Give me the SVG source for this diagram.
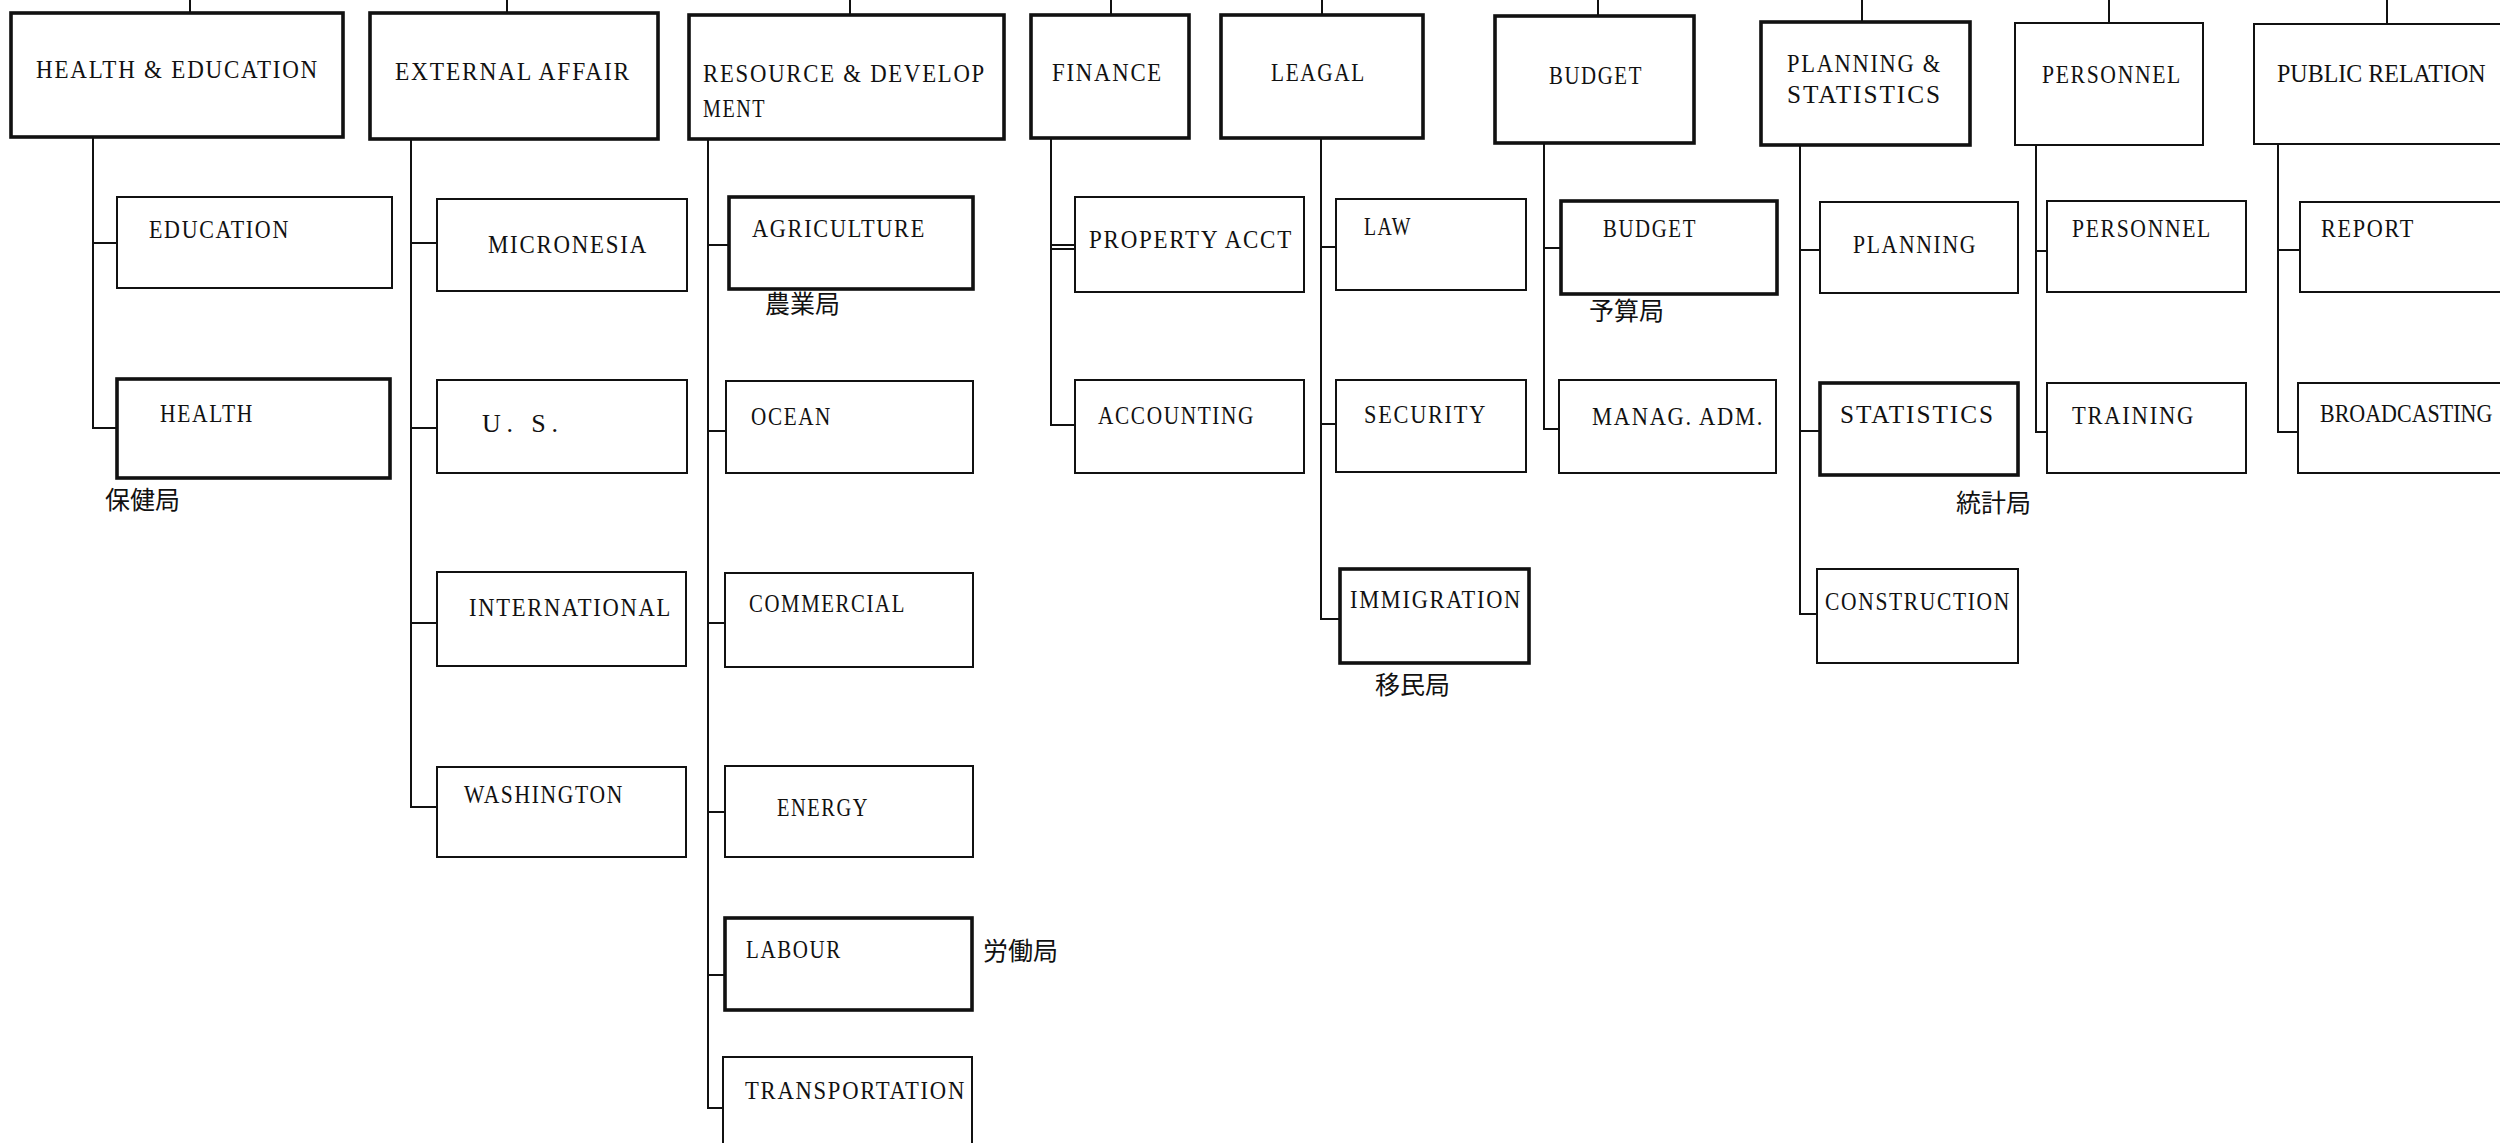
<svg xmlns="http://www.w3.org/2000/svg" width="2500" height="1143" viewBox="0 0 2500 1143">
  <style>
    .box { fill: #ffffff; stroke: #111111; stroke-width: 2; }
    .box.bold { stroke-width: 3.6; }
    .lbl { font-family: "Liberation Serif", "DejaVu Serif", serif; font-size: 26px; letter-spacing: 2px; fill: #111111; }
    .lbl.edge { letter-spacing: 0; }
    .jp { font-family: "Noto Sans CJK JP", "Noto Sans CJK SC", sans-serif; font-size: 25px; fill: #111111; }
    .wire { fill: none; stroke: #111111; stroke-width: 2; }
  </style>
  <rect x="0" y="0" width="2500" height="1143" fill="#ffffff"/>

  <!-- connectors: stubs from the line above, then each department's trunk and branches -->
  <g id="connectors" class="wire">
    <path d="M190 0V13 M507 0V13 M850 0V15 M1111 0V15 M1322 0V15 M1598 0V16 M1862 0V22 M2109 0V23 M2387 0V24"/>
    <path d="M93 137V428H117 M93 243H117"/>
    <path d="M411 139V807H437 M411 243H437 M411 428H437 M411 623H437"/>
    <path d="M708 139V1108H723 M708 245H729 M708 431H726 M708 623H725 M708 812H725 M708 975H725"/>
    <path d="M1051 138V425H1075 M1051 245H1075 M1051 249H1075"/>
    <path d="M1321 138V619H1340 M1321 247H1336 M1321 424H1336"/>
    <path d="M1544 143V429H1559 M1544 248H1561"/>
    <path d="M1800 145V614H1817 M1800 250H1820 M1800 431H1820"/>
    <path d="M2036 145V432H2047 M2036 251H2047"/>
    <path d="M2278 144V432H2298 M2278 250H2300"/>
  </g>

  <!-- departments -->
  <g id="health-education">
    <rect class="box bold" x="11" y="13" width="332" height="124"/>
    <text class="lbl" x="36" y="78" textLength="283" lengthAdjust="spacingAndGlyphs">HEALTH &amp; EDUCATION</text>
  </g>
  <g id="external-affair">
    <rect class="box bold" x="370" y="13" width="288" height="126"/>
    <text class="lbl" x="395" y="80" textLength="236" lengthAdjust="spacingAndGlyphs">EXTERNAL AFFAIR</text>
  </g>
  <g id="resource-development">
    <rect class="box bold" x="689" y="15" width="315" height="124"/>
    <text class="lbl" x="703" y="82" textLength="283" lengthAdjust="spacingAndGlyphs">RESOURCE &amp; DEVELOP</text>
    <text class="lbl" x="703" y="117" textLength="63" lengthAdjust="spacingAndGlyphs">MENT</text>
  </g>
  <g id="finance">
    <rect class="box bold" x="1031" y="15" width="158" height="123"/>
    <text class="lbl" x="1052" y="81" textLength="111" lengthAdjust="spacingAndGlyphs">FINANCE</text>
  </g>
  <g id="legal">
    <rect class="box bold" x="1221" y="15" width="202" height="123"/>
    <text class="lbl" x="1271" y="81" textLength="95" lengthAdjust="spacingAndGlyphs">LEAGAL</text>
  </g>
  <g id="budget">
    <rect class="box bold" x="1495" y="16" width="199" height="127"/>
    <text class="lbl" x="1549" y="84" textLength="94" lengthAdjust="spacingAndGlyphs">BUDGET</text>
  </g>
  <g id="planning-statistics">
    <rect class="box bold" x="1761" y="22" width="209" height="123"/>
    <text class="lbl" x="1787" y="72" textLength="155" lengthAdjust="spacingAndGlyphs">PLANNING &amp;</text>
    <text class="lbl" x="1787" y="103" textLength="155" lengthAdjust="spacingAndGlyphs">STATISTICS</text>
  </g>
  <g id="personnel">
    <rect class="box" x="2015" y="23" width="188" height="122"/>
    <text class="lbl" x="2042" y="83" textLength="140" lengthAdjust="spacingAndGlyphs">PERSONNEL</text>
  </g>
  <g id="public-relation">
    <rect class="box" x="2254" y="24" width="270" height="120"/>
    <!-- set a little smaller, stretched upright, so it stays inside the right margin -->
    <text class="lbl edge" transform="translate(2277 82) scale(1 1.08)" style="font-size:24px">PUBLIC RELATION</text>
  </g>

  <!-- offices under HEALTH & EDUCATION -->
  <g id="education">
    <rect class="box" x="117" y="197" width="275" height="91"/>
    <text class="lbl" x="149" y="238" textLength="141" lengthAdjust="spacingAndGlyphs">EDUCATION</text>
  </g>
  <g id="health">
    <rect class="box bold" x="117" y="379" width="273" height="99"/>
    <text class="lbl" x="160" y="422" textLength="94" lengthAdjust="spacingAndGlyphs">HEALTH</text>
    <text class="jp" x="105" y="509">保健局</text>
  </g>

  <!-- offices under EXTERNAL AFFAIR -->
  <g id="micronesia">
    <rect class="box" x="437" y="199" width="250" height="92"/>
    <text class="lbl" x="488" y="253" textLength="160" lengthAdjust="spacingAndGlyphs">MICRONESIA</text>
  </g>
  <g id="us">
    <rect class="box" x="437" y="380" width="250" height="93"/>
    <text class="lbl" x="482" y="432" textLength="78" lengthAdjust="spacing">U. S.</text>
  </g>
  <g id="international">
    <rect class="box" x="437" y="572" width="249" height="94"/>
    <text class="lbl" x="469" y="616" textLength="203" lengthAdjust="spacingAndGlyphs">INTERNATIONAL</text>
  </g>
  <g id="washington">
    <rect class="box" x="437" y="767" width="249" height="90"/>
    <text class="lbl" x="464" y="803" textLength="160" lengthAdjust="spacingAndGlyphs">WASHINGTON</text>
  </g>

  <!-- offices under RESOURCE & DEVELOPMENT -->
  <g id="agriculture">
    <rect class="box bold" x="729" y="197" width="244" height="92"/>
    <text class="lbl" x="752" y="237" textLength="174" lengthAdjust="spacingAndGlyphs">AGRICULTURE</text>
    <text class="jp" x="765" y="313">農業局</text>
  </g>
  <g id="ocean">
    <rect class="box" x="726" y="381" width="247" height="92"/>
    <text class="lbl" x="751" y="425" textLength="81" lengthAdjust="spacingAndGlyphs">OCEAN</text>
  </g>
  <g id="commercial">
    <rect class="box" x="725" y="573" width="248" height="94"/>
    <text class="lbl" x="749" y="612" textLength="157" lengthAdjust="spacingAndGlyphs">COMMERCIAL</text>
  </g>
  <g id="energy">
    <rect class="box" x="725" y="766" width="248" height="91"/>
    <text class="lbl" x="777" y="816" textLength="92" lengthAdjust="spacingAndGlyphs">ENERGY</text>
  </g>
  <g id="labour">
    <rect class="box bold" x="725" y="918" width="247" height="92"/>
    <text class="lbl" x="746" y="958" textLength="96" lengthAdjust="spacingAndGlyphs">LABOUR</text>
    <text class="jp" x="983" y="960">労働局</text>
  </g>
  <g id="transportation">
    <rect class="box" x="723" y="1057" width="249" height="110"/>
    <text class="lbl" x="745" y="1099" textLength="221" lengthAdjust="spacingAndGlyphs">TRANSPORTATION</text>
  </g>

  <!-- offices under FINANCE -->
  <g id="property-acct">
    <rect class="box" x="1075" y="197" width="229" height="95"/>
    <text class="lbl" x="1089" y="248" textLength="204" lengthAdjust="spacingAndGlyphs">PROPERTY ACCT</text>
  </g>
  <g id="accounting">
    <rect class="box" x="1075" y="380" width="229" height="93"/>
    <text class="lbl" x="1098" y="424" textLength="157" lengthAdjust="spacingAndGlyphs">ACCOUNTING</text>
  </g>

  <!-- offices under LEAGAL -->
  <g id="law">
    <rect class="box" x="1336" y="199" width="190" height="91"/>
    <text class="lbl" x="1364" y="235" textLength="48" lengthAdjust="spacingAndGlyphs">LAW</text>
  </g>
  <g id="security">
    <rect class="box" x="1336" y="380" width="190" height="92"/>
    <text class="lbl" x="1364" y="423" textLength="123" lengthAdjust="spacingAndGlyphs">SECURITY</text>
  </g>
  <g id="immigration">
    <rect class="box bold" x="1340" y="569" width="189" height="94"/>
    <text class="lbl" x="1350" y="608" textLength="172" lengthAdjust="spacingAndGlyphs">IMMIGRATION</text>
    <text class="jp" x="1375" y="694">移民局</text>
  </g>

  <!-- offices under BUDGET -->
  <g id="budget-office">
    <rect class="box bold" x="1561" y="201" width="216" height="93"/>
    <text class="lbl" x="1603" y="237" textLength="94" lengthAdjust="spacingAndGlyphs">BUDGET</text>
    <text class="jp" x="1589" y="320">予算局</text>
  </g>
  <g id="manag-adm">
    <rect class="box" x="1559" y="380" width="217" height="93"/>
    <text class="lbl" x="1592" y="425" textLength="172" lengthAdjust="spacingAndGlyphs">MANAG. ADM.</text>
  </g>

  <!-- offices under PLANNING & STATISTICS -->
  <g id="planning">
    <rect class="box" x="1820" y="202" width="198" height="91"/>
    <text class="lbl" x="1853" y="253" textLength="124" lengthAdjust="spacingAndGlyphs">PLANNING</text>
  </g>
  <g id="statistics">
    <rect class="box bold" x="1820" y="383" width="198" height="92"/>
    <text class="lbl" x="1840" y="423" textLength="155" lengthAdjust="spacingAndGlyphs">STATISTICS</text>
    <text class="jp" x="1956" y="512">統計局</text>
  </g>
  <g id="construction">
    <rect class="box" x="1817" y="569" width="201" height="94"/>
    <text class="lbl" x="1825" y="610" textLength="186" lengthAdjust="spacingAndGlyphs">CONSTRUCTION</text>
  </g>

  <!-- offices under PERSONNEL -->
  <g id="personnel-office">
    <rect class="box" x="2047" y="201" width="199" height="91"/>
    <text class="lbl" x="2072" y="237" textLength="140" lengthAdjust="spacingAndGlyphs">PERSONNEL</text>
  </g>
  <g id="training">
    <rect class="box" x="2047" y="383" width="199" height="90"/>
    <text class="lbl" x="2072" y="424" textLength="123" lengthAdjust="spacingAndGlyphs">TRAINING</text>
  </g>

  <!-- offices under PUBLIC RELATION -->
  <g id="report">
    <rect class="box" x="2300" y="202" width="224" height="90"/>
    <text class="lbl" x="2321" y="237" textLength="94" lengthAdjust="spacingAndGlyphs">REPORT</text>
  </g>
  <g id="broadcasting">
    <rect class="box" x="2298" y="383" width="226" height="90"/>
    <!-- set a little smaller, stretched upright, so it stays inside the right margin -->
    <text class="lbl edge" transform="translate(2320 422) scale(1 1.17)" style="font-size:22px">BROADCASTING</text>
  </g>
</svg>
